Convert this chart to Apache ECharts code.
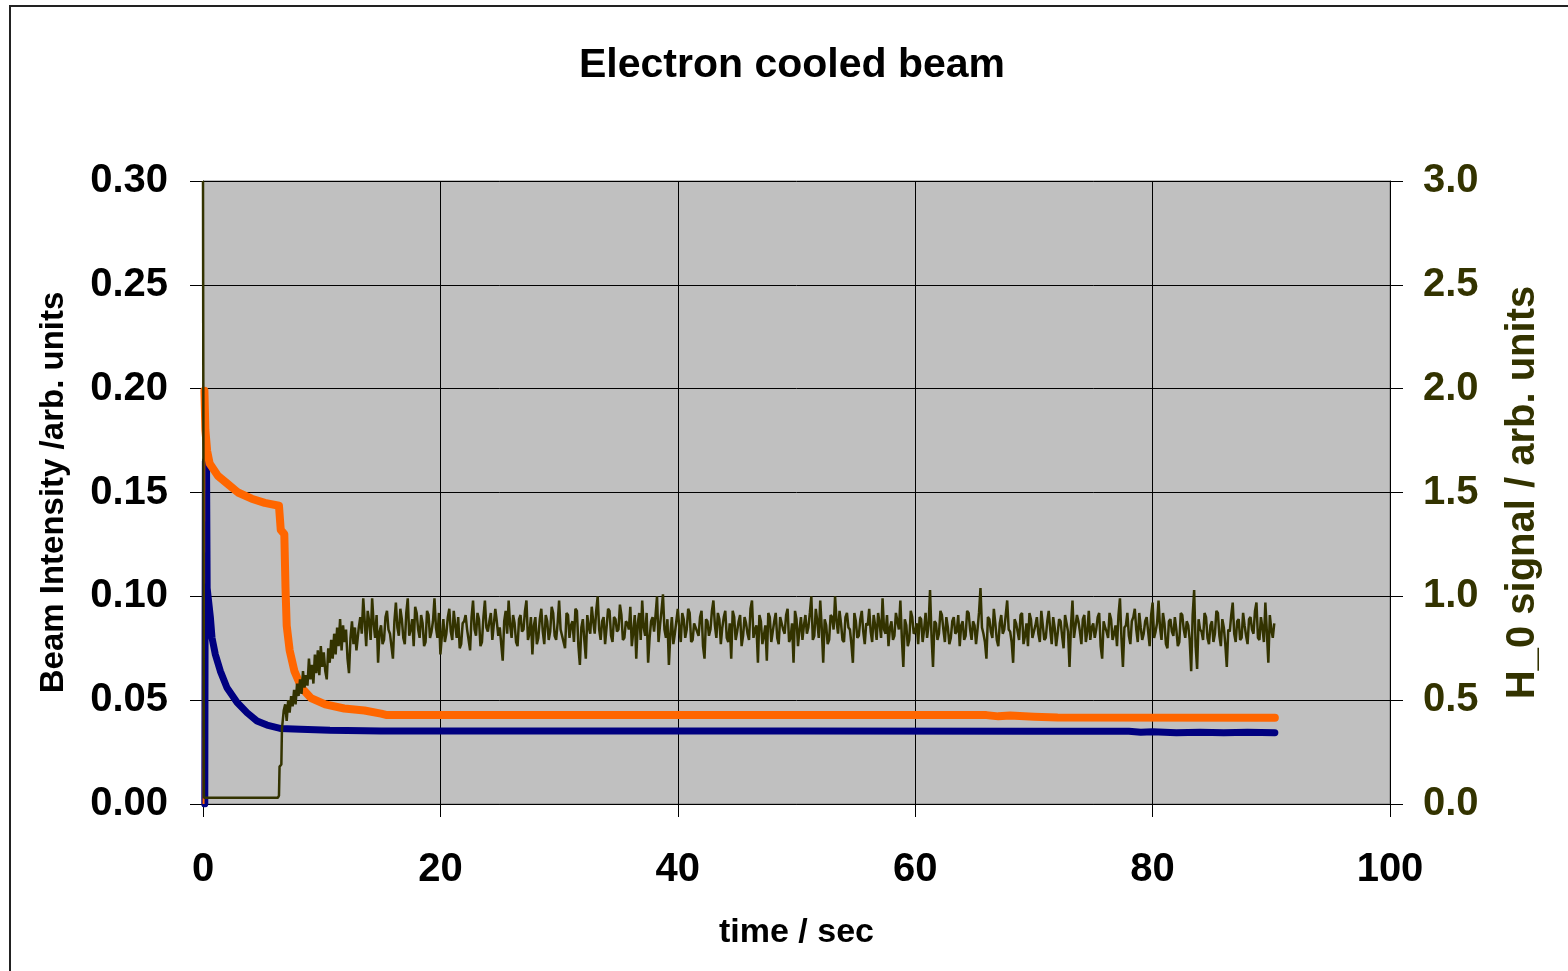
<!DOCTYPE html>
<html>
<head>
<meta charset="utf-8">
<script src="https://cdn.jsdelivr.net/npm/echarts@6/dist/echarts.min.js"></script>
<style>
    html, body {margin: 0; padding: 0; background: #fff;}
    #chart {width: 1568px; height: 971px;}
</style>
</head>
<body>
<div id="chart"></div>
<script>
// time / sec and beam intensity (left axis)
const orangeRiseT = [0.05, 0.12]
const orangeRiseV = [0, 0.199]
const orangeT = [0.12, 0.2, 0.35, 0.56, 1.26, 2.1, 2.95, 4.1, 5.2, 6.4, 6.55, 6.85, 6.95, 7.05, 7.3, 7.7, 8.3, 9.1, 10.3, 11.9, 13.6, 15.0, 15.5, 40, 66, 67, 68, 70, 72, 90.3]
const orangeV = [0.199, 0.18, 0.17, 0.164, 0.158, 0.154, 0.150, 0.147, 0.145, 0.1436, 0.132, 0.130, 0.104, 0.086, 0.074, 0.064, 0.056, 0.051, 0.048, 0.046, 0.045, 0.0435, 0.0428, 0.0428, 0.0428, 0.0422, 0.0426, 0.0420, 0.0416, 0.0415]

const blueT = [0.15, 0.2, 0.3, 0.35, 0.62, 0.76, 1.04, 1.46, 2.02, 2.86, 3.7, 4.55, 5.39, 6.5, 8.2, 10.7, 15, 30, 50, 70, 78, 79, 80, 82, 84, 86, 88, 90.3]
const blueV = [0.0, 0.165, 0.16, 0.104, 0.09, 0.08, 0.072, 0.064, 0.056, 0.049, 0.044, 0.040, 0.038, 0.0364, 0.0360, 0.0355, 0.0352, 0.0351, 0.0351, 0.035, 0.035, 0.0345, 0.0348, 0.0343, 0.0346, 0.0343, 0.0345, 0.0343]

// H_0 signal (right axis), start-up part
const h0EarlyT = [0, 0.08, 1, 2, 3, 4, 5, 6.3, 6.4, 6.45, 6.6, 6.65,
    6.8, 6.925, 7.05, 7.175, 7.3, 7.425, 7.55, 7.675, 7.8, 7.925, 8.05, 8.175, 8.3, 8.425, 8.55, 8.675, 8.8, 8.925,
    9.05, 9.175, 9.3, 9.425, 9.55, 9.675, 9.8, 9.925, 10.05, 10.175, 10.3, 10.425, 10.55, 10.675, 10.8, 10.925,
    11.05, 11.175, 11.3, 11.425, 11.55, 11.675, 11.8, 11.925, 12.05, 12.175, 12.3, 12.425, 12.55, 12.675, 12.8, 12.925]
const h0EarlyV = [3.0, 0.03, 0.03, 0.03, 0.03, 0.03, 0.03, 0.03, 0.04, 0.18, 0.19, 0.36,
    0.45, 0.48, 0.40, 0.50, 0.44, 0.52, 0.47, 0.55, 0.48, 0.58, 0.52, 0.60, 0.53, 0.64, 0.56, 0.62, 0.57, 0.70,
    0.60, 0.67, 0.58, 0.72, 0.63, 0.74, 0.62, 0.76, 0.66, 0.73, 0.64, 0.60, 0.75, 0.68, 0.79, 0.70,
    0.82, 0.72, 0.85, 0.76, 0.89, 0.74, 0.86, 0.78, 0.84, 0.70, 0.63, 0.80, 0.88, 0.77, 0.85, 0.74]

// H_0 signal plateau, sampled every 0.25 s from 13 s
const h0Start = 13.0
const h0Step = 0.25
const h0Plateau = [
    0.78, 0.90, 0.99, 0.76, 0.88, 0.99, 0.80, 0.68, 0.86, 0.79, 0.93, 0.82, 0.70, 0.97, 0.81, 0.89, 0.77, 0.99, 0.84, 0.76,
    0.92, 0.80, 0.87, 0.78, 0.91, 0.83, 0.99, 0.80, 0.72, 0.89, 0.82, 0.94, 0.79, 0.86, 0.90, 0.77, 0.88, 0.84, 0.74, 0.98,
    0.81, 0.89, 0.78, 0.98, 0.83, 0.92, 0.79, 0.88, 0.85, 0.69, 0.93, 0.98, 0.80, 0.87, 0.76, 0.91, 0.84, 0.98, 0.82, 0.72,
    0.90, 0.80, 0.94, 0.77, 0.88, 0.83, 0.92, 0.79, 0.98, 0.84, 0.75, 0.91, 0.86, 0.78, 0.93, 0.67, 0.89, 0.70, 0.85, 0.95,
    0.82, 1.00, 0.79, 0.90, 0.85, 0.93, 0.78, 0.89, 0.84, 0.91, 0.80, 0.87, 0.95, 0.83, 0.70, 0.92, 0.98, 0.81, 0.68, 0.88,
    0.83, 1.00, 0.86, 1.01, 0.80, 0.67, 0.90, 0.82, 0.94, 0.78, 0.89, 0.84, 0.92, 0.79, 0.87, 0.81, 0.93, 0.70, 0.88, 0.84,
    0.98, 0.80, 0.89, 0.85, 0.93, 0.78, 0.70, 0.90, 0.83, 0.91, 0.81, 0.87, 0.79, 0.98, 0.84, 0.68, 0.88, 0.81, 0.69, 0.90,
    0.83, 0.92, 0.77, 0.87, 0.82, 0.94, 0.80, 0.68, 0.89, 0.84, 0.79, 0.91, 0.85, 1.00, 0.81, 0.88, 0.98, 0.68, 0.86, 0.79,
    0.90, 1.00, 0.82, 0.87, 0.78, 0.92, 0.84, 0.68, 0.88, 0.81, 0.93, 0.77, 0.86, 0.83, 0.91, 0.79, 0.87, 0.99, 0.82, 0.76,
    0.88, 0.81, 0.92, 0.98, 0.66, 0.86, 0.79, 0.90, 0.83, 0.77, 0.89, 0.84, 0.80, 1.03, 0.66, 0.87, 0.82, 0.91, 0.78, 0.85,
    0.80, 0.90, 0.83, 0.76, 0.88, 0.81, 0.92, 0.79, 0.86, 0.84, 1.04, 0.82, 0.70, 0.89, 0.80, 0.87, 0.76, 0.91, 0.84, 0.98,
    0.83, 0.68, 0.87, 0.79, 0.92, 0.81, 0.76, 0.89, 0.83, 0.90, 0.78, 0.86, 0.80, 0.93, 0.77, 0.85, 0.82, 0.88, 0.75, 0.87,
    0.66, 0.98, 0.80, 0.88, 0.77, 0.91, 0.83, 0.79, 0.87, 0.84, 0.92, 0.70, 0.85, 0.80, 0.89, 0.82, 0.76, 0.99, 0.66, 0.86,
    0.81, 0.88, 0.94, 0.78, 0.85, 0.82, 0.90, 0.76, 0.97, 0.83, 0.98, 0.79, 0.87, 0.75, 0.89, 0.81, 0.84, 0.78, 0.91, 0.80,
    0.86, 0.64, 1.03, 0.65, 0.84, 0.79, 0.90, 0.77, 0.88, 0.82, 0.92, 0.76, 0.85, 0.66, 0.83, 0.97, 0.78, 0.89, 0.80, 0.86,
    0.77, 0.90, 0.82, 0.97, 0.79, 0.85, 0.97, 0.68, 0.84, 0.87
]
// readings half a step after each plateau sample
const h0PlateauMid = [
    0.85, 0.82, 0.88, 0.93, 0.79, 0.87, 0.91, 0.83, 0.77, 0.90, 0.84, 0.76, 0.88, 0.85, 0.94, 0.80, 0.92, 0.81, 0.89, 0.95,
    0.84, 0.91, 0.76, 0.93, 0.80, 0.88, 0.85, 0.92, 0.81, 0.78, 0.90, 0.83, 0.93, 0.80, 0.75, 0.87, 0.91, 0.79, 0.90, 0.84,
    0.92, 0.76, 0.90, 0.85, 0.88, 0.79, 0.94, 0.81, 0.77, 0.88, 0.82, 0.86, 0.91, 0.78, 0.89, 0.83, 0.93, 0.79, 0.90, 0.86,
    0.77, 0.89, 0.83, 0.91, 0.79, 0.95, 0.81, 0.87, 0.84, 0.78, 0.92, 0.80, 0.88, 0.94, 0.76, 0.85, 0.79, 0.91, 0.82, 0.88,
    0.93, 0.84, 0.88, 0.77, 0.94, 0.81, 0.90, 0.83, 0.96, 0.79, 0.88, 0.84, 0.76, 0.91, 0.87, 0.79, 0.85, 0.92, 0.80, 0.90,
    0.91, 0.78, 0.93, 0.84, 0.89, 0.82, 0.77, 0.88, 0.85, 0.92, 0.80, 0.94, 0.78, 0.87, 0.83, 0.90, 0.76, 0.89, 0.81, 0.93,
    0.86, 0.92, 0.77, 0.90, 0.80, 0.87, 0.93, 0.79, 0.88, 0.76, 0.90, 0.82, 0.94, 0.80, 0.86, 0.91, 0.77, 0.86, 0.92, 0.78,
    0.88, 0.80, 0.90, 0.84, 0.91, 0.78, 0.87, 0.93, 0.76, 0.90, 0.86, 0.82, 0.92, 0.79, 0.94, 0.80, 0.85, 0.89, 0.77, 0.91,
    0.84, 0.88, 0.93, 0.79, 0.90, 0.85, 0.77, 0.92, 0.80, 0.89, 0.83, 0.87, 0.94, 0.78, 0.86, 0.92, 0.80, 0.84, 0.91, 0.85,
    0.79, 0.92, 0.84, 0.80, 0.89, 0.76, 0.93, 0.82, 0.87, 0.90, 0.78, 0.92, 0.86, 0.81, 0.88, 0.79, 0.93, 0.84, 0.90, 0.77,
    0.88, 0.82, 0.91, 0.86, 0.79, 0.93, 0.84, 0.88, 0.77, 0.92, 0.85, 0.78, 0.90, 0.83, 0.94, 0.79, 0.87, 0.82, 0.91, 0.84,
    0.78, 0.89, 0.83, 0.91, 0.77, 0.87, 0.92, 0.80, 0.86, 0.82, 0.93, 0.79, 0.88, 0.84, 0.90, 0.76, 0.89, 0.81, 0.91, 0.83,
    0.86, 0.80, 0.91, 0.83, 0.89, 0.78, 0.93, 0.85, 0.80, 0.90, 0.76, 0.88, 0.83, 0.92, 0.79, 0.86, 0.91, 0.80, 0.85, 0.92,
    0.77, 0.90, 0.84, 0.92, 0.79, 0.88, 0.83, 0.91, 0.80, 0.87, 0.85, 0.92, 0.77, 0.88, 0.83, 0.90, 0.76, 0.92, 0.84, 0.88,
    0.79, 0.91, 0.76, 0.89, 0.83, 0.92, 0.80, 0.86, 0.78, 0.93, 0.81, 0.89, 0.77, 0.84, 0.91, 0.82, 0.88, 0.79, 0.92, 0.81,
    0.89, 0.84, 0.93, 0.80, 0.90, 0.78, 0.83, 0.91, 0.80
]

const zip = (xs, ys) => xs.map((x, i) => [x, ys[i]])

const h0Data = zip(h0EarlyT, h0EarlyV)
h0Plateau.forEach((v, i) => {
    const t = h0Start + i * h0Step
    h0Data.push([t, v])
    if (i < h0PlateauMid.length) {
        h0Data.push([t + h0Step / 2, h0PlateauMid[i]])
    }
})

const FONT = '"Liberation Sans", Arial, sans-serif'
const OLIVE = '#333300'

const chart = echarts.init(document.getElementById('chart'), null, {renderer: 'canvas'})

const option = {
    animation: false,
    backgroundColor: '#ffffff',
    title: {
        text: 'Electron cooled beam',
        left: 574,
        top: 40,
        textStyle: {fontFamily: FONT, fontWeight: 'bold', fontSize: 41, color: '#000'}
    },
    graphic: [
        {
            type: 'rect',
            shape: {x: 10, y: 6, width: 1600, height: 1000},
            style: {fill: null, stroke: '#222', lineWidth: 2},
            silent: true,
            z: -10
        }
    ],
    grid: {
        left: 203,
        right: 178,
        top: 181,
        bottom: 167,
        show: true,
        backgroundColor: '#C0C0C0',
        borderColor: '#808080',
        borderWidth: 1
    },
    xAxis: {
        type: 'value',
        min: 0,
        max: 100,
        interval: 20,
        name: 'time / sec',
        nameLocation: 'middle',
        nameGap: 112,
        nameTextStyle: {fontFamily: FONT, fontWeight: 'bold', fontSize: 34, color: '#000'},
        axisLine: {show: true, onZero: false, lineStyle: {color: '#000', width: 1}},
        axisTick: {show: true, length: 13, lineStyle: {color: '#000'}},
        axisLabel: {margin: 46, fontFamily: FONT, fontWeight: 'bold', fontSize: 40, color: '#000'},
        splitLine: {show: true, lineStyle: {color: '#000', width: 1}}
    },
    yAxis: [
        {
            type: 'value',
            position: 'left',
            min: 0,
            max: 0.3,
            interval: 0.05,
            name: 'Beam Intensity /arb. units',
            nameLocation: 'middle',
            nameGap: 133,
            nameTextStyle: {fontFamily: FONT, fontWeight: 'bold', fontSize: 33, color: '#000'},
            axisLine: {show: true, lineStyle: {color: '#000', width: 1}},
            axisTick: {show: true, length: 13, lineStyle: {color: '#000'}},
            axisLabel: {
                margin: 35,
                fontFamily: FONT, fontWeight: 'bold', fontSize: 40, color: '#000',
                formatter: (v) => v.toFixed(2)
            },
            splitLine: {show: true, lineStyle: {color: '#000', width: 1}}
        },
        {
            type: 'value',
            position: 'right',
            min: 0,
            max: 3,
            interval: 0.5,
            name: 'H_0 signal / arb. units',
            nameLocation: 'middle',
            nameGap: 113,
            nameTextStyle: {fontFamily: FONT, fontWeight: 'bold', fontSize: 40, color: OLIVE},
            axisLine: {show: true, lineStyle: {color: '#000', width: 1}},
            axisTick: {show: true, length: 13, lineStyle: {color: '#000'}},
            axisLabel: {
                margin: 33,
                fontFamily: FONT, fontWeight: 'bold', fontSize: 40, color: OLIVE,
                formatter: (v) => v.toFixed(1)
            },
            splitLine: {show: false}
        },
        {
            // inner half of the crossing ticks on the right axis
            type: 'value',
            position: 'right',
            min: 0,
            max: 3,
            interval: 0.5,
            axisLine: {show: false},
            axisTick: {show: true, inside: true, length: 12, lineStyle: {color: '#000'}},
            axisLabel: {show: false},
            splitLine: {show: false}
        }
    ],
    series: [
        {
            name: 'blue',
            type: 'line',
            yAxisIndex: 0,
            symbol: 'none',
            data: zip(blueT, blueV),
            lineStyle: {color: '#000080', width: 7, cap: 'round', join: 'round'},
            z: 2
        },
        {
            name: 'orange rise',
            type: 'line',
            yAxisIndex: 0,
            symbol: 'none',
            data: zip(orangeRiseT, orangeRiseV),
            lineStyle: {color: '#FF6600', width: 2},
            z: 3
        },
        {
            name: 'orange',
            type: 'line',
            yAxisIndex: 0,
            symbol: 'none',
            data: zip(orangeT, orangeV),
            lineStyle: {color: '#FF6600', width: 8, cap: 'round', join: 'round'},
            z: 3
        },
        {
            name: 'H_0',
            type: 'line',
            yAxisIndex: 1,
            symbol: 'none',
            sampling: null,
            data: h0Data,
            lineStyle: {color: OLIVE, width: 2.5},
            z: 4
        }
    ]
}

chart.setOption(option)
</script>
</body>
</html>
